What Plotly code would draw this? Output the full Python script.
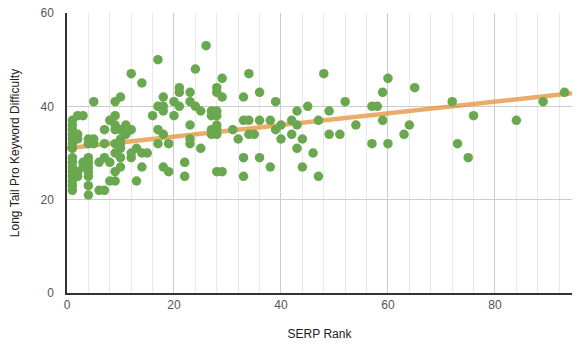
import plotly.graph_objects as go

# SERP rank (x) and Long Tail Pro keyword difficulty (y)
serp_rank = [
    # x = 1..5 cluster
    1, 1, 1, 1, 1, 1, 1, 1, 1, 1, 1, 1, 1, 1, 1,
    2, 2, 2, 2, 2,
    3, 3, 3,
    4, 4, 4, 4, 4, 4, 4, 4, 4,
    5, 5, 5,
    # 6..19
    6, 6, 7, 7, 7, 7, 8, 8, 8, 9, 9, 9, 9, 9, 9, 9, 9,
    10, 10, 10, 10, 10, 10, 10, 11, 11, 12, 12, 12, 12,
    13, 13, 14, 14, 14, 15, 16, 17, 17, 17, 17, 18, 18, 18, 18, 18,
    19, 19,
    # 20..39
    20, 20, 21, 21, 21, 22, 22, 23, 23, 23, 23, 23, 24, 24, 25, 25, 26,
    27, 27, 27, 27, 28, 28, 28, 28, 28, 28, 28, 28, 29, 29, 29,
    31, 32, 33, 33, 33, 33, 34, 34, 34, 35, 36, 36, 36, 38, 38, 39, 39,
    # 40+
    40, 40, 42, 42, 43, 43, 43, 44, 44, 45, 46, 47, 47, 48, 49, 49, 51, 52,
    54, 57, 58, 57, 59, 59, 60, 60, 63, 64, 65, 72, 73, 75, 76, 84, 89, 93,
]
difficulty = [
    22, 23, 24, 25, 26, 27, 28, 29, 31, 32, 33, 34, 35, 36, 37,
    38, 34, 33, 26, 25,
    38, 28, 27,
    32, 29, 28, 27, 26, 25, 23, 21, 33,
    41, 32, 33,
    28, 22, 35, 32, 29, 22, 37, 28, 24, 41, 38, 36, 32, 30, 26, 24, 35,
    42, 35, 33, 31, 29, 27, 32, 36, 34, 47, 35, 30, 29,
    31, 24, 45, 30, 27, 30, 38, 50, 40, 35, 32, 42, 40, 39, 34, 27,
    32, 26,
    41, 38, 44, 43, 40, 28, 25, 43, 41, 36, 33, 32, 48, 40, 39, 31, 53,
    39, 38, 35, 34, 44, 43, 39, 38, 36, 35, 34, 26, 46, 42, 26,
    35, 33, 42, 37, 29, 25, 47, 37, 34, 34, 43, 37, 29, 37, 27, 41, 35,
    36, 33, 37, 34, 39, 36, 31, 33, 27, 40, 30, 37, 25, 47, 39, 34, 34, 41,
    36, 40, 40, 32, 43, 37, 46, 32, 34, 36, 44, 41, 32, 29, 38, 37, 41, 43,
]

# Trendline end points
trend_x = [0, 94.4]
trend_y = [31.0, 42.8]

x_range = [0, 94.4]
y_range = [0, 60]

fig = go.Figure()
fig.add_trace(go.Scatter(
    x=trend_x, y=trend_y, mode="lines",
    line=dict(color="#e69138", width=4.5), opacity=0.75,
    hoverinfo="skip", showlegend=False,
))
fig.add_trace(go.Scatter(
    x=serp_rank, y=difficulty, mode="markers",
    marker=dict(color="#6aa84f", size=9.5, line=dict(width=0)),
    showlegend=False,
))

font_family = "Liberation Sans, Arial, sans-serif"
fig.update_layout(
    width=578, height=352,
    margin=dict(l=67, r=6, t=13, b=59),
    paper_bgcolor="white", plot_bgcolor="white",
    font=dict(family=font_family, size=12, color="#444"),
    xaxis=dict(
        range=x_range, dtick=20, tick0=0,
        showgrid=True, gridcolor="#cccccc", gridwidth=1,
        minor=dict(dtick=4, showgrid=True, gridcolor="#e8e8e8", gridwidth=1),
        zeroline=False, showline=True, linecolor="#333", linewidth=1.5,
        ticks="", ticklabelstandoff=0,
        tickfont=dict(size=12, color="#555"),
        title=dict(text="SERP Rank", font=dict(size=12, color="#222"), standoff=18),
    ),
    yaxis=dict(
        range=y_range, dtick=20, tick0=0,
        showgrid=True, gridcolor="#cccccc", gridwidth=1,
        zeroline=False, showline=True, linecolor="#333", linewidth=1.5,
        ticks="", ticklabelstandoff=9,
        tickfont=dict(size=12, color="#555"),
        title=dict(text="Long Tail Pro Keyword Difficulty", font=dict(size=12, color="#222"), standoff=18),
    ),
)

fig.write_html("out.html")
